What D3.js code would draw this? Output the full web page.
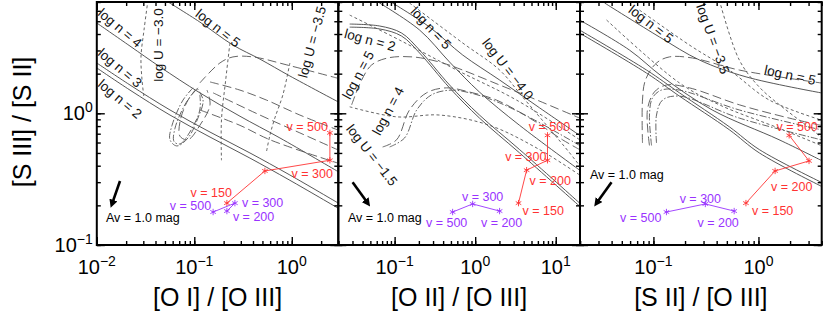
<!DOCTYPE html>
<html><head><meta charset="utf-8">
<script src="https://cdn.jsdelivr.net/npm/d3@7"></script>
<style>body{margin:0;background:#fff}svg{display:block}text{font-family:"Liberation Sans",Arial,Helvetica,sans-serif}</style>
</head><body><svg id="c" width="831" height="315"></svg>
<script>
// ---------- data (ratio values) ----------
const yDomain=[0.1,7];
const xDomains=[[0.01,3],[0.02,20],[0.02,4]];
const xMajor=[[0.01,0.1,1],[0.1,1,10],[0.1,1]];
const yMajor=[0.1,1];
const xTitles=["[O I] / [O III]","[O II] / [O III]","[S II] / [O III]"];
const yTitle="[S III] / [S II]";
const shockV=[150,200,300,500];
const precV=[200,300,500];

// panel 1: [O I]/[O III]
const p1_n5=[[0.050,7.25],[0.114,4.93],[0.249,3.30],[0.471,2.58],[0.956,1.92],[3.0,1.22]];
const p1_n4=[[0.010,4.85],[0.0219,3.24],[0.0445,2.25],[0.114,1.43],[0.294,0.95],[0.755,0.65],[3.0,0.36]];
const p1_n3=[[0.010,2.41],[0.0219,1.64],[0.0563,1.06],[0.145,0.72],[0.372,0.50],[0.956,0.34],[3.0,0.208]];
const p1_n2=[[0.010,2.21],[0.0219,1.50],[0.0563,0.97],[0.145,0.66],[0.372,0.457],[0.956,0.31],[3.0,0.19]];
const p1_U30=[[0.0335,7.25],[0.0305,4.29],[0.0284,2.68],[0.0291,1.79],[0.0305,1.31]];
const p1_U35=[[0.956,2.41],[0.81,1.38],[0.67,0.92],[0.596,0.68],[0.55,0.51]];
const p1_Umid=[[0.232,3.42],[0.21,1.79],[0.19,0.89],[0.19,0.44]];
const p1_L1=[[0.114,1.70],[0.183,2.41],[0.249,2.68],[0.40,2.68],[0.89,2.33],[2.93,1.85]];
const p1_L2=[[0.145,1.73],[0.294,1.50],[0.55,1.26],[1.21,0.97],[2.93,0.75]];
const p1_L3=[[0.156,1.43],[0.471,0.97],[1.21,0.71],[2.93,0.53]];
const p1_L4=[[0.114,1.06],[0.294,0.81],[0.596,0.63],[2.93,0.42]];
const p1_loop1=[[0.097,1.56],[0.0766,1.26],[0.0591,0.81],[0.0563,0.63],[0.0662,0.565],[0.0862,0.65],[0.109,0.92],[0.123,1.26],[0.106,1.56]];
const p1_loop2=[[0.109,1.56],[0.0862,1.26],[0.0713,0.86],[0.0713,0.67],[0.0862,0.63],[0.114,0.81],[0.145,1.16],[0.135,1.50]];
const p1_loop3=[[0.102,1.50],[0.080,1.16],[0.0634,0.77],[0.062,0.61],[0.0713,0.585],[0.090,0.72],[0.114,1.06],[0.114,1.38]];
const p1_shock=[[0.216,0.208],[0.53,0.365],[2.46,0.44],[2.46,0.71]];
const p1_prec=[[0.216,0.181],[0.261,0.208],[0.156,0.178]];
const p1_av=[[0.0173,0.306],[0.01433,0.205]];

// panel 2: [O II]/[O III]
const p2_n5=[[0.082,7.25],[0.272,4.51],[0.70,2.77],[2.01,1.79],[6.30,1.10],[19.8,0.68]];
const p2_n4=[[0.0565,7.25],[0.204,4.29],[0.481,2.45],[1.13,1.45],[3.56,0.81],[19.8,0.37]];
const p2_n3=[[0.0277,4.76],[0.0652,4.60],[0.122,4.07],[0.204,3.02],[0.481,1.64],[1.13,0.97],[3.56,0.53],[19.8,0.208]];
const p2_n2=[[0.0277,4.51],[0.0652,4.37],[0.122,3.86],[0.204,2.87],[0.481,1.56],[1.13,0.92],[3.56,0.50],[19.8,0.197]];
const p2_L5=[[0.0293,1.16],[0.039,1.79],[0.0519,2.33],[0.082,2.63],[0.167,2.68],[0.362,2.45],[0.70,2.13],[2.01,1.64],[4.74,1.33],[19.8,0.92]];
const p2_L4=[[0.071,0.555],[0.106,0.63],[0.153,1.06],[0.249,1.43],[0.44,1.56],[0.853,1.45],[1.84,1.26],[4.74,0.92],[12.1,0.63],[19.8,0.53]];
const p2_DD4=[[0.0867,0.555],[0.133,0.65],[0.188,1.06],[0.287,1.38],[0.509,1.50],[0.98,1.40],[2.01,1.20],[5.44,0.89],[19.8,0.57]];
const p2_d1=[[0.0277,5.57],[0.115,3.60],[0.59,2.13],[3.26,1.26],[19.8,0.63]];
const p2_d2=[[0.153,6.88],[0.70,3.42],[2.01,2.13],[3.88,1.33],[14.9,0.50],[19.8,0.40]];
const p2_d3=[[0.0277,1.12],[0.106,0.94],[0.362,0.97],[1.51,0.81],[6.30,0.53],[19.8,0.34]];
const p2_shock=[[3.45,0.208],[4.35,0.37],[7.9,0.44],[7.9,0.68]];
const p2_prec=[[2.01,0.181],[0.93,0.205],[0.525,0.178]];
const p2_av=[[0.0301,0.30],[0.0463,0.208]];

// panel 3: [S II]/[O III]
const p3_n5=[[0.0343,6.88],[0.114,3.80],[0.274,2.54],[0.763,1.89],[3.94,1.43]];
const p3_n4=[[0.0198,5.11],[0.0592,3.02],[0.122,1.89],[0.363,1.06],[1.57,0.63],[3.94,0.44]];
const p3_n3=[[0.0198,4.29],[0.086,2.13],[0.177,1.43],[0.528,0.79],[1.02,0.53],[3.94,0.30]];
const p3_n2=[[0.0198,4.07],[0.086,2.02],[0.177,1.35],[0.528,0.75],[1.02,0.50],[3.94,0.28]];
const p3_L5=[[0.0787,0.595],[0.0787,1.26],[0.084,1.79],[0.107,2.41],[0.142,2.68],[0.235,2.63],[0.657,2.13],[3.94,1.70]];
const p3_L4=[[0.0917,0.57],[0.0877,1.06],[0.102,1.45],[0.133,1.64],[0.22,1.56],[0.657,1.16],[1.96,0.92],[3.94,0.81]];
const p3_L3=[[0.107,0.595],[0.107,0.97],[0.122,1.26],[0.177,1.35],[0.657,0.92],[3.94,0.63]];
const p3_DD=[[0.096,0.57],[0.0917,0.97],[0.098,1.31],[0.119,1.50],[0.177,1.50],[0.657,1.06],[3.94,0.75]];
const p3_d1=[[0.424,7.25],[0.657,2.54],[1.02,1.58],[1.83,1.06],[3.24,0.75],[3.94,0.66]];
const p3_d2=[[0.0358,5.11],[0.177,1.70],[0.424,1.16],[1.57,0.77],[3.94,0.57]];
const p3_d3=[[0.0737,6.08],[0.22,3.30],[0.528,2.13],[1.27,1.26],[3.94,0.89]];
const p3_shock=[[0.76,0.208],[1.44,0.365],[3.03,0.435],[1.96,0.68]];
const p3_prec=[[0.587,0.181],[0.312,0.205],[0.133,0.178]];
const p3_av=[[0.0399,0.30],[0.0288,0.208]];

// ---------- styles ----------
const ST={
  solid:{dash:null,color:"#444"},
  ldash:{dash:"9,4",color:"#555"},
  sdash:{dash:"3,2.5",color:"#555"},
  ddot:{dash:"7,2,1.5,2",color:"#555"}
};
const RED="#ff3333", PURPLE="#9933ff";

const panels=[
 {x0:96.8,x1:338.3,
  curves:[[p1_n5,"solid"],[p1_n4,"solid"],[p1_n3,"solid"],[p1_n2,"solid"],[p1_U30,"sdash"],[p1_U35,"sdash"],[p1_Umid,"sdash"],
          [p1_L1,"ldash"],[p1_L2,"ldash"],[p1_L3,"ldash"],[p1_L4,"ldash"],[p1_loop1,"ddot"],[p1_loop2,"ldash"],[p1_loop3,"ddot"]],
  shock:p1_shock,prec:p1_prec,av:p1_av,
  shockLab:[[5,-6,"end"],null,[3,18,"end"],[-2,-2,"end"]],
  precLab:[[6,10,"start"],[7,4,"start"],[-2,-2,"end"]],
  avText:[106,222],
  labels:[["log n = 4",120,28,40],["log U = −3.0",158,45,-90],["log n = 5",218,28,38],["log U = −3.5",312,42,-75],["log n = 3",120,68,40],["log n = 2",120,99,40]]},
 {x0:338.3,x1:580,
  curves:[[p2_n5,"solid"],[p2_n4,"solid"],[p2_n3,"solid"],[p2_n2,"solid"],[p2_L5,"ldash"],[p2_L4,"ldash"],[p2_DD4,"ddot"],[p2_d1,"sdash"],[p2_d2,"sdash"],[p2_d3,"sdash"]],
  shock:p2_shock,prec:p2_prec,av:p2_av,
  shockLab:[[4,12,"start"],[3,15,"start"],[-1,1,"end"],[2,-4,"middle"]],
  precLab:[[2,16,"middle"],[10,-3,"middle"],[-6,15,"middle"]],
  avText:[348,222],
  labels:[["log n = 2",370,40,15],["log n = 5",431,28,47],["log U = −4.0",508,69,52],["log n = 5",358,75,-62],["log n = 4",388,111,-62],["log U = −1.5",372,155,52]]},
 {x0:580,x1:821.7,
  curves:[[p3_n5,"solid"],[p3_n4,"solid"],[p3_n3,"solid"],[p3_n2,"solid"],[p3_L5,"ldash"],[p3_L4,"ldash"],[p3_L3,"ddot"],[p3_DD,"ddot"],[p3_d1,"sdash"],[p3_d2,"sdash"],[p3_d3,"sdash"]],
  shock:p3_shock,prec:p3_prec,av:p3_av,
  shockLab:[[6,12,"start"],[-4,20,"start"],null,[8,-4,"middle"]],
  precLab:[[-16,16,"middle"],[-5,-1,"middle"],[-5,10,"end"]],
  avText:[590,179],
  labels:[["log n = 5",651,24,38],["log U = −3.5",713,39,70],["log n = 5",790,75,12]]}
];

const svg=d3.select("#c");
const Y0=2,Y1=245;
const y=d3.scaleLog().domain(yDomain).range([Y1,Y0]);
const defs=svg.append("defs");
defs.append("marker").attr("id","ah").attr("viewBox","0 0 10 10").attr("refX",5).attr("refY",5)
  .attr("markerWidth",3.2).attr("markerHeight",3.2).attr("orient","auto")
  .append("path").attr("d","M0,0L10,5L0,10z").attr("fill","#000");

function minors(dom){
  const out=[];
  for(let e=Math.floor(Math.log10(dom[0]));e<=Math.ceil(Math.log10(dom[1]));e++)
    for(let k=1;k<10;k++){const v=k*Math.pow(10,e);if(v>=dom[0]*0.999&&v<=dom[1]*1.001)out.push(v);}
  return out;
}
function supTxt(e){return e<0?"−"+(-e):String(e);}
function powLabel(g,x,yy,e,anchor){
  const t=g.append("text").attr("x",x).attr("y",yy).attr("text-anchor",anchor).style("font-size","20px").attr("fill","#000");
  t.append("tspan").text("10");
  t.append("tspan").attr("dy",-8).style("font-size","14px").text(supTxt(e));
}

panels.forEach((p,i)=>{
  const x=d3.scaleLog().domain(xDomains[i]).range([p.x0,p.x1]);
  const g=svg.append("g");
  const cid="clip"+i;
  defs.append("clipPath").attr("id",cid).append("rect").attr("x",p.x0).attr("y",Y0).attr("width",p.x1-p.x0).attr("height",Y1-Y0);
  const pg=g.append("g").attr("clip-path",`url(#${cid})`);
  const line=d3.line().x(d=>x(d[0])).y(d=>y(d[1])).curve(d3.curveCatmullRom.alpha(0.5));
  p.curves.forEach(([data,st])=>{
    pg.append("path").attr("d",line(data)).attr("fill","none").attr("stroke",ST[st].color)
      .attr("stroke-width",0.9).attr("stroke-dasharray",ST[st].dash);
  });
  const lin=d3.line().x(d=>x(d[0])).y(d=>y(d[1]));
  const sym=d3.symbol().type(d3.symbolAsterisk).size(28);
  [[p.shock,RED,shockV,p.shockLab],[p.prec,PURPLE,precV,p.precLab]].forEach(([data,col,vs,labs])=>{
    pg.append("path").attr("d",lin(data)).attr("fill","none").attr("stroke",col).attr("stroke-width",0.9);
    data.forEach((d,j)=>{
      pg.append("path").attr("d",sym()).attr("transform",`translate(${x(d[0])},${y(d[1])})`).attr("stroke",col).attr("stroke-width",0.9).attr("fill","none");
      const L=labs[j]; if(!L) return;
      g.append("text").attr("x",x(d[0])+L[0]).attr("y",y(d[1])+L[1]).attr("text-anchor",L[2])
        .style("font-size","12.5px").attr("fill",col).text("v = "+vs[j]);
    });
  });
  // Av arrow
  g.append("line").attr("x1",x(p.av[0][0])).attr("y1",y(p.av[0][1])).attr("x2",x(p.av[1][0])).attr("y2",y(p.av[1][1]))
    .attr("stroke","#000").attr("stroke-width",2.6).attr("marker-end","url(#ah)");
  g.append("text").attr("x",p.avText[0]).attr("y",p.avText[1]).style("font-size","12.5px").attr("fill","#000").text("Av = 1.0 mag");
  // model labels
  p.labels.forEach(([t,cx,cy,a])=>{
    g.append("text").attr("transform",`translate(${cx},${cy}) rotate(${a})`).attr("text-anchor","middle").attr("dy","0.35em")
      .style("font-size","13.5px").attr("fill","#111").text(t);
  });
  // ticks
  const mk=(axis,tv,len)=>axis.tickValues(tv).tickSize(-len).tickFormat("");
  const xm=minors(xDomains[i]), ym=minors(yDomain);
  [[d3.axisBottom,Y1],[d3.axisTop,Y0]].forEach(([A,pos])=>{
    [[xm,4],[xMajor[i],8]].forEach(([tv,len])=>{
      const a=g.append("g").attr("transform",`translate(0,${pos})`).call(mk(A(x),tv,len));
      a.select(".domain").remove(); a.selectAll("line").attr("stroke","#000").attr("stroke-width",1.4);
    });
  });
  [[d3.axisLeft,p.x0],[d3.axisRight,p.x1]].forEach(([A,pos])=>{
    [[ym,4],[yMajor,8]].forEach(([tv,len])=>{
      const a=g.append("g").attr("transform",`translate(${pos},0)`).call(mk(A(y),tv,len));
      a.select(".domain").remove(); a.selectAll("line").attr("stroke","#000").attr("stroke-width",1.4);
    });
  });
  g.append("rect").attr("x",p.x0).attr("y",Y0).attr("width",p.x1-p.x0).attr("height",Y1-Y0)
    .attr("fill","none").attr("stroke","#000").attr("stroke-width",2);
  // tick labels
  xMajor[i].forEach(v=>powLabel(g,x(v),274,Math.round(Math.log10(v)),"middle"));
  if(i===0) yMajor.forEach(v=>powLabel(g,p.x0-4,y(v)+7,Math.round(Math.log10(v)),"end"));
  g.append("text").attr("x",(p.x0+p.x1)/2).attr("y",306).attr("text-anchor","middle").style("font-size","25px").attr("fill","#000").text(xTitles[i]);
});
svg.append("text").attr("transform","translate(31,122) rotate(-90)").attr("text-anchor","middle").style("font-size","25px").attr("fill","#000").text(yTitle);
</script></body></html>
